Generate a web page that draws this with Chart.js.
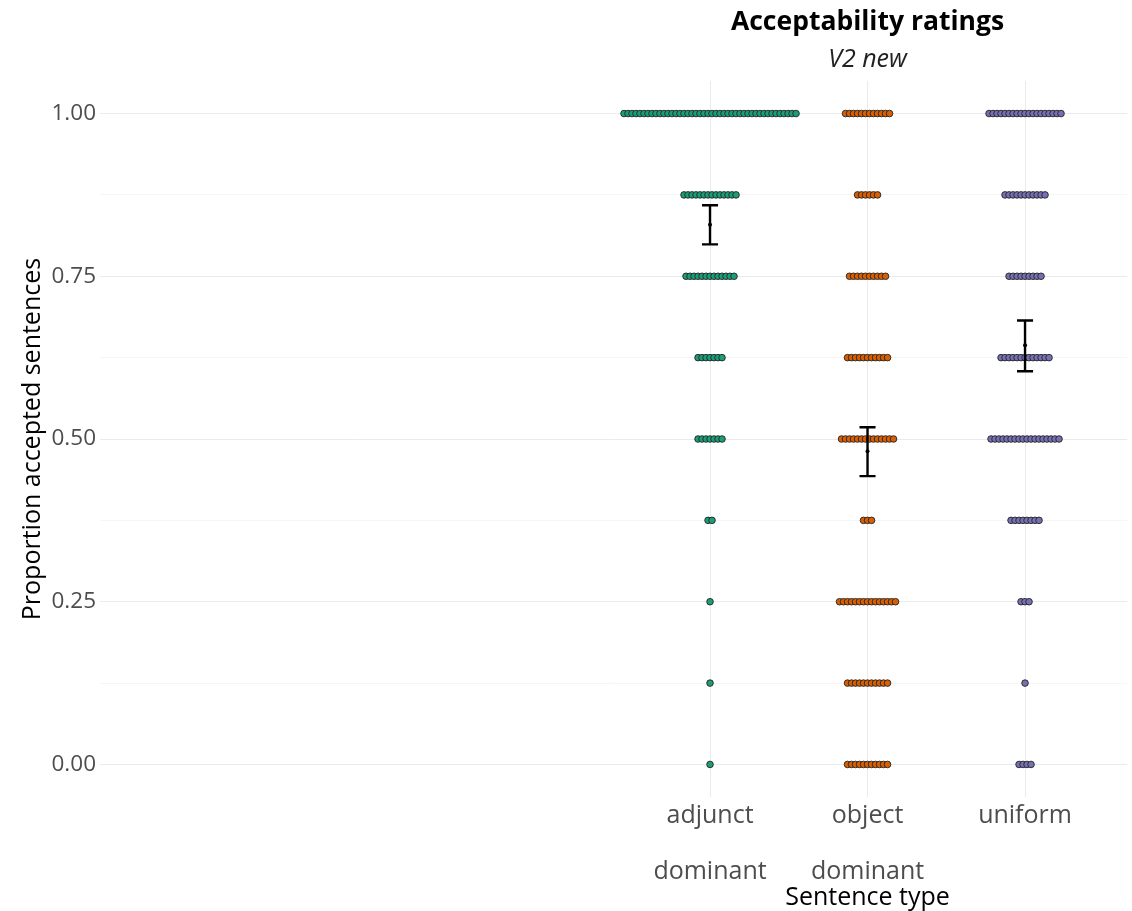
<!DOCTYPE html>
<html>
<head>
<meta charset="utf-8">
<style>
  html, body { margin: 0; padding: 0; background: #ffffff; }
</style>
</head>
<body>
<canvas id="ratingsChart" width="1132" height="911"></canvas>

<script src="https://cdn.jsdelivr.net/npm/chart.js@4.4.0/dist/chart.umd.min.js"></script>
<script>
    // rating levels (proportion of accepted sentences) and how many participants hit each
    const ratingLevels = [0, 0.125, 0.25, 0.375, 0.5, 0.625, 0.75, 0.875, 1];
    const yTickLabels = ['0.00', '', '0.25', '', '0.50', '', '0.75', '', '1.00'];

    const typeLabels = [['adjunct', '', 'dominant'], ['object', '', 'dominant'], ['uniform']];
    const typeColors = ['#1b9e77', '#d95f02', '#7570b3'];

    const adjunctCounts = [1, 1, 1, 2, 7, 7, 13, 14, 44];
    const objectCounts = [11, 11, 15, 3, 14, 11, 10, 6, 12];
    const uniformCounts = [4, 1, 3, 8, 18, 13, 9, 11, 19];

    // mean and interval per sentence type
    const meanRatings = [0.829, 0.481, 0.644];
    const ciLower = [0.799, 0.443, 0.604];
    const ciUpper = [0.859, 0.518, 0.682];

    const countsByType = [adjunctCounts, objectCounts, uniformCounts];
    const dotStep = 0.0254;   // horizontal spacing of swarm dots (x units)
    const capHalf = 0.051;

    // lay the dots out side by side around each category
    function swarm(counts, cat) {
        const pts = [];
        counts.forEach((n, i) => {
            for (let j = 0; j < n; j++) {
                pts.push({ x: cat + (j - (n - 1) / 2) * dotStep, y: ratingLevels[i] });
            }
        });
        return pts;
    }

    const dotSets = countsByType.map((counts, k) => ({
        type: 'scatter',
        label: typeLabels[k].join(' '),
        data: swarm(counts, k + 1),
        backgroundColor: typeColors[k],
        borderColor: '#222222',
        borderWidth: 0.9,
        pointRadius: 3.3,
        order: 2
    }));

    const barPoints = [];
    meanRatings.forEach((m, k) => {
        const c = k + 1;
        barPoints.push({ x: c, y: ciLower[k] }, { x: c, y: ciUpper[k] }, { x: c, y: null });
        barPoints.push({ x: c - capHalf, y: ciUpper[k] }, { x: c + capHalf, y: ciUpper[k] }, { x: c, y: null });
        barPoints.push({ x: c - capHalf, y: ciLower[k] }, { x: c + capHalf, y: ciLower[k] }, { x: c, y: null });
    });

    const errorBars = {
        type: 'line',
        label: 'interval',
        data: barPoints,
        borderColor: '#000000',
        borderWidth: 2.4,
        pointRadius: 0,
        spanGaps: false,
        fill: false,
        order: 0
    };

    const meanDots = {
        type: 'scatter',
        label: 'mean',
        data: meanRatings.map((m, k) => ({ x: k + 1, y: m })),
        backgroundColor: '#000000',
        borderWidth: 0,
        pointRadius: 2,
        order: 0
    };

    const fontFamily = '"Open Sans", "Noto Sans", sans-serif';

    // titles are centred on the middle category, like the original panel
    const titlesPlugin = {
        id: 'panelTitles',
        afterDraw(chart) {
            const ctx = chart.ctx;
            const cx = chart.scales.x.getPixelForValue(2);
            ctx.save();
            ctx.textAlign = 'center';
            ctx.textBaseline = 'middle';
            ctx.fillStyle = '#000000';
            ctx.font = 'bold 26.5px ' + fontFamily;
            ctx.fillText('Acceptability ratings', cx, 22);
            ctx.fillStyle = '#222222';
            ctx.font = 'italic 25px ' + fontFamily;
            ctx.fillText('V2 new', cx, 60);
            ctx.fillStyle = '#000000';
            ctx.font = '25px ' + fontFamily;
            ctx.fillText('Sentence type', cx, 898);
            ctx.restore();
        }
    };

    const ctx = document.getElementById('ratingsChart').getContext('2d');
    new Chart(ctx, {
        data: { datasets: [errorBars, meanDots, ...dotSets] },
        options: {
            responsive: false,
            animation: false,
            layout: { padding: { top: 81, right: 0, left: 0, bottom: 0 } },
            plugins: {
                legend: { display: false },
                tooltip: { enabled: false }
            },
            scales: {
                x: {
                    type: 'linear',
                    min: -2.873,
                    max: 3.648,
                    afterBuildTicks: (scale) => {
                        scale.ticks = [1, 2, 3].map(v => ({ value: v }));
                    },
                    afterFit: (scale) => { scale.height = 114; },
                    grid: { color: '#ebebeb', lineWidth: 1, drawTicks: false },
                    border: { display: false },
                    ticks: {
                        padding: 5,
                        color: '#4d4d4d',
                        font: { family: fontFamily, size: 25, lineHeight: 1.12 },
                        maxRotation: 0,
                        autoSkip: false,
                        callback: (v) => typeLabels[v - 1] || ''
                    }
                },
                y: {
                    type: 'linear',
                    min: -0.05,
                    max: 1.05,
                    afterBuildTicks: (scale) => {
                        scale.ticks = ratingLevels.map(v => ({ value: v }));
                    },
                    afterFit: (scale) => { scale.width = 100; },
                    grid: {
                        drawTicks: false,
                        lineWidth: 1,
                        color: (c) => (c.index % 2 === 0 ? '#ebebeb' : '#f5f5f5')
                    },
                    border: { display: false },
                    title: {
                        display: true,
                        text: 'Proportion accepted sentences',
                        color: '#000000',
                        font: { family: fontFamily, size: 25 },
                        padding: { top: 18, bottom: 0 }
                    },
                    ticks: {
                        padding: 4,
                        color: '#4d4d4d',
                        font: { family: fontFamily, size: 22.5 },
                        callback: (v, i) => yTickLabels[i]
                    }
                }
            }
        },
        plugins: [titlesPlugin]
    });
</script>
</body>
</html>
